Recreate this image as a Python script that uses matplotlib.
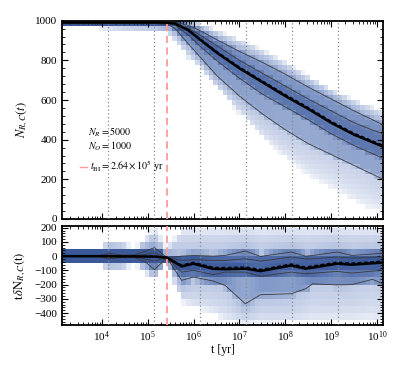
import numpy as np
import matplotlib
matplotlib.use('Agg')
import matplotlib.pyplot as plt
from matplotlib.colors import LinearSegmentedColormap, LogNorm
from matplotlib.lines import Line2D
from matplotlib.ticker import MultipleLocator, LogLocator, NullFormatter

plt.rcParams['font.family'] = ['Liberation Serif', 'DejaVu Serif']
plt.rcParams['mathtext.fontset'] = 'stix'

# ---- top panel: N_{R,C}(t) (x in log10 yr) ----
top_logt = [3.13, 5.2, 5.45, 5.6, 5.9, 6.14, 6.5, 7.0, 7.5, 8.0, 8.5, 9.0, 9.5, 10.13]
top_lo   = [980, 960, 940, 900, 800, 770, 660, 530, 400, 300, 190, 130, 60, 0]
top_p02  = [988, 985, 980, 960, 880, 818, 725, 620, 530, 450, 380, 325, 270, 200]
top_p16  = [990, 988, 988, 978, 925, 872, 800, 710, 630, 565, 500, 430, 370, 306]
top_p50  = [991, 991, 990, 985, 950, 905, 840, 760, 690, 620, 555, 485, 425, 365]
top_mean = [991, 991, 990, 986, 953, 910, 846, 767, 697, 628, 563, 493, 433, 372]
top_p84  = [993, 993, 993, 988, 960, 928, 875, 800, 735, 670, 605, 545, 485, 428]
top_p97  = [995, 995, 995, 993, 975, 950, 905, 845, 790, 730, 665, 605, 545, 475]
top_hi   = [1000, 1000, 1000, 1000, 1000, 985, 950, 910, 850, 790, 720, 650, 600, 545]

# ---- bottom panel: t dN/dt ----
bot_logt = [3.13, 3.95, 4.15, 4.45, 4.7, 4.95, 5.15, 5.42, 5.74, 6.0, 6.43, 6.69, 7.13,
            7.46, 8.13, 8.44, 8.6, 9.13, 9.45, 9.9, 10.13]
bot_lo   = [-20, -20, -110, -100, -30, -110, -160, -40, -320, -380, -420, -480, -490,
            -490, -490, -490, -490, -490, -490, -490, -490]
bot_p02  = [-3, -5, -20, -10, -8, -40, -95, -10, -170, -147, -175, -206, -335,
            -271, -264, -229, -195, -202, -200, -163, -195]
bot_p16  = [-1, -2, -8, -5, -4, -20, -35, -10, -112, -100, -130, -112, -112,
            -142, -112, -124, -120, -107, -119, -105, -100]
bot_p50  = [0, 0, 0, -2, -2, -3, -3, -10, -72, -53, -89, -92, -88,
            -105, -65, -88, -80, -53, -60, -50, -45]
bot_mean = [0, 1, 2, 0, 0, 0, 0, -10, -62, -43, -78, -80, -76,
            -93, -55, -76, -68, -42, -48, -40, -34]
bot_p84  = [1, 2, 8, 4, 4, 12, 22, -10, -30, -25, -30, -30, -18,
            -35, -6, -20, -18, -6, -14, -8, -2]
bot_p97  = [3, 5, 20, 8, 8, 35, 60, -10, 0, 5, 0, 5, 36,
            -2, 29, 0, 5, 29, 5, 15, 22]
bot_hi   = [20, 20, 110, 100, 30, 110, 210, 40, 210, 210, 210, 210, 210,
            210, 210, 210, 210, 210, 210, 210, 210]

t_bi = 2.64e5
grid_t = [1.4e4, 1.4e5, 1.4e6, 1.4e7, 1.4e8, 1.4e9]

masses = [0.025, 0.135, 0.34, 0.34, 0.135, 0.025]


def seg_cdf(y, a, b, kind):
    u = np.clip((y - a) / (b - a), 0, 1)
    if kind == 'up':      # density rises toward b (lower tail)
        return u ** 2
    if kind == 'down':    # density falls toward b (upper tail)
        return 1 - (1 - u) ** 2
    return u


def density(qs, edges):
    out = np.zeros(len(edges) - 1)
    kinds = ['up', 'flat', 'flat', 'flat', 'flat', 'down']
    for a, b, m, k in zip(qs[:-1], qs[1:], masses, kinds):
        if b - a < 1e-9:
            i = np.clip(np.searchsorted(edges, a, side='right') - 1, 0, len(out) - 1)
            out[i] += m
        else:
            c = seg_cdf(edges, a, b, k)
            out += np.diff(c) * m
    return out


def heat(nodes, quants, yedges, xedges):
    centers = 0.5 * (xedges[:-1] + xedges[1:])
    z = np.zeros((len(yedges) - 1, len(centers)))
    for j, c in enumerate(centers):
        qs = sorted(np.interp(c, nodes, q) for q in quants)
        z[:, j] = density(qs, yedges)
    return np.ma.masked_less(z, 0.0008)


cmap = LinearSegmentedColormap.from_list('bl', ['#eef1f8', '#c3cee6', '#8097c6', '#3b5899'])
norm = LogNorm(0.001, 0.4)
xedges = np.arange(3.135, 10.2, 0.1)

fig = plt.figure(figsize=(4.15, 3.67), dpi=100)
ax1 = fig.add_axes([0.1494, 0.4033, 0.7735, 0.5403])
ax2 = fig.add_axes([0.1494, 0.1144, 0.7735, 0.2698])

# top
z1 = heat(top_logt, [top_lo, top_p02, top_p16, top_p50, top_p84, top_p97, top_hi],
          np.arange(0, 1001, 25), xedges)
ax1.pcolormesh(10 ** xedges, np.arange(0, 1001, 25), z1, cmap=cmap, norm=norm, zorder=1)
tt = 10 ** np.array(top_logt)
for arr in [top_p02, top_p16, top_p84, top_p97]:
    ax1.plot(tt, arr, color='#3a3a3a', lw=0.6, zorder=4)
ax1.plot(tt, top_p50, color='black', lw=1.8, zorder=5)
ax1.plot(tt, top_mean, color='black', lw=0.9, ls=(0, (3, 2)), zorder=5)

# bottom
yb = np.arange(-500, 251, 50)
z2 = heat(bot_logt, [bot_lo, bot_p02, bot_p16, bot_p50, bot_p84, bot_p97, bot_hi], yb, xedges)
ax2.pcolormesh(10 ** xedges, yb, z2, cmap=cmap, norm=norm, zorder=1)
tb = 10 ** np.array(bot_logt)
for arr in [bot_p02, bot_p16, bot_p84, bot_p97]:
    ax2.plot(tb, arr, color='#3a3a3a', lw=0.6, zorder=4)
ax2.plot(tb, bot_p50, color='black', lw=1.8, zorder=5)
ax2.plot(tb, bot_mean, color='black', lw=0.9, ls=(0, (3, 2)), zorder=5)

for ax in (ax1, ax2):
    ax.set_xscale('log')
    ax.set_xlim(10 ** 3.135, 10 ** 10.128)
    for g in grid_t:
        ax.axvline(g, color='#8a8a8a', ls=(0, (1, 2)), lw=0.9, zorder=3)
    ax.axvline(t_bi, color='#ff9a9a', ls=(0, (4, 2.5)), lw=1.3, zorder=6)
    ax.xaxis.set_major_locator(LogLocator(base=10, numticks=12))
    ax.xaxis.set_minor_locator(LogLocator(base=10, subs=np.arange(2, 10), numticks=12))
    ax.tick_params(which='both', direction='in', top=True, right=True, labelsize=8)
    ax.tick_params(which='major', length=4, width=0.8)
    ax.tick_params(which='minor', length=2, width=0.6)
    for s in ax.spines.values():
        s.set_linewidth(1.3)

ax1.set_ylim(0, 1000)
ax1.yaxis.set_major_locator(MultipleLocator(200))
ax1.yaxis.set_minor_locator(MultipleLocator(40))
ax1.xaxis.set_major_formatter(NullFormatter())
ax1.set_ylabel(r'$N_{R,C}(t)$', fontsize=9)
ax1.yaxis.set_label_coords(-0.10, 0.5)

ax2.set_ylim(-484, 212)
ax2.yaxis.set_major_locator(MultipleLocator(100))
ax2.yaxis.set_minor_locator(MultipleLocator(20))
ax2.set_ylabel(r'$\mathrm{t}\,\delta\mathrm{N}_{R,C}(\mathrm{t})$', fontsize=9)
ax2.yaxis.set_label_coords(-0.106, 0.5)
ax2.set_xlabel('t [yr]', fontsize=8.5)
ax2.xaxis.set_label_coords(0.5, -0.19)

fig.text(88 / 415, 1 - 132 / 367, r'$N_R = 5000$', fontsize=7.2, va='center')
fig.text(88 / 415, 1 - 146 / 367, r'$N_O = 1000$', fontsize=7.2, va='center')
fig.add_artist(Line2D([80 / 415, 87 / 415], [1 - 166.7 / 367] * 2, color='#ff9a9a', lw=1))
fig.text(90 / 415, 1 - 166.7 / 367, r'$t_{\mathrm{BI}} = 2.64\times10^5$ yr', fontsize=7.2, va='center')

fig.savefig('out.png', dpi=100)
